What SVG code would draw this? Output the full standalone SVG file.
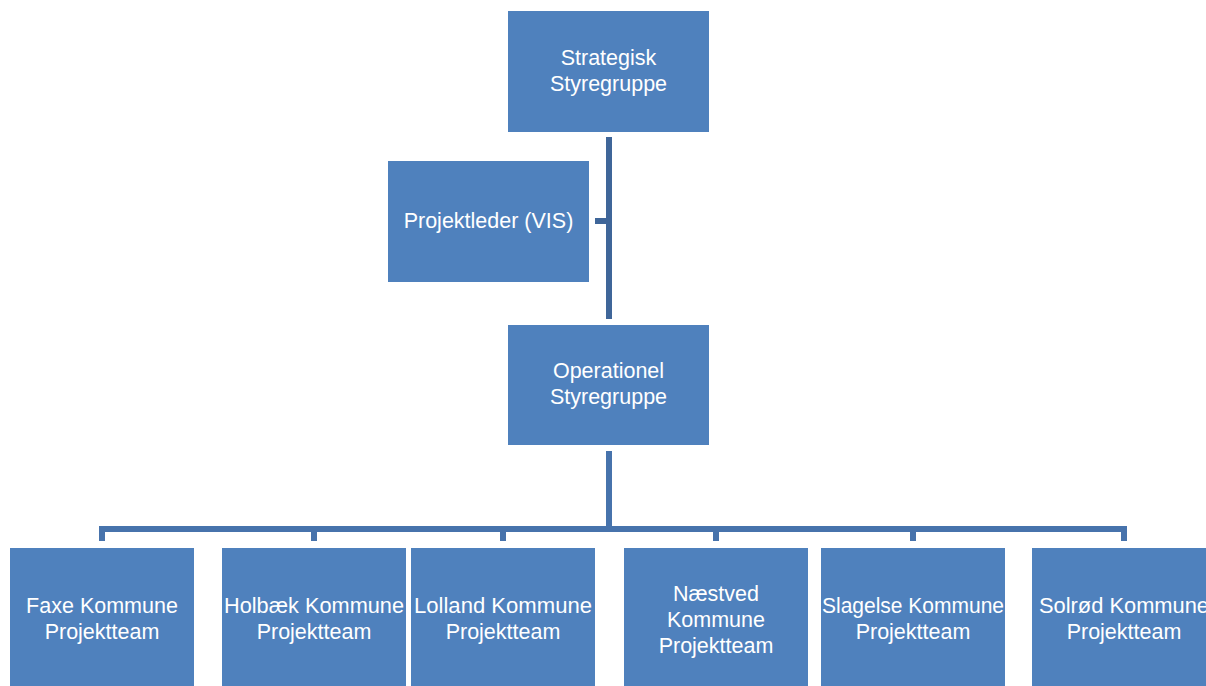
<svg xmlns="http://www.w3.org/2000/svg" width="1206" height="686" viewBox="0 0 1206 686">
<style>
.box{fill:#4F81BD;}
.lbl{font-family:"Liberation Sans",Arial,sans-serif;font-size:21.5px;fill:#FFFFFF;text-anchor:middle;}
.c1{stroke:#3F6699;stroke-width:6;fill:none;}
.c2{stroke:#4773AC;stroke-width:6;fill:none;}
</style>
<rect width="1206" height="686" fill="#FFFFFF"/>
<g id="connectors">
<line class="c1" x1="609" y1="137" x2="609" y2="319"/>
<line class="c1" x1="595" y1="221" x2="612" y2="221"/>
<line class="c2" x1="609" y1="451" x2="609" y2="529"/>
<path class="c2" d="M102,541 V529 H1124 V541"/>
<line class="c2" x1="314" y1="529" x2="314" y2="541"/>
<line class="c2" x1="503" y1="529" x2="503" y2="541"/>
<line class="c2" x1="716" y1="529" x2="716" y2="541"/>
<line class="c2" x1="913" y1="529" x2="913" y2="541"/>
</g>
<g id="strategisk">
<rect class="box" x="508" y="11" width="201" height="121"/>
<text class="lbl" x="608.5" y="65">Strategisk</text>
<text class="lbl" x="608.5" y="91">Styregruppe</text>
</g>
<g id="projektleder">
<rect class="box" x="388" y="161" width="201" height="121"/>
<text class="lbl" x="488.5" y="228">Projektleder (VIS)</text>
</g>
<g id="operationel">
<rect class="box" x="508" y="325" width="201" height="120"/>
<text class="lbl" x="608.5" y="378">Operationel</text>
<text class="lbl" x="608.5" y="404">Styregruppe</text>
</g>
<g id="faxe">
<rect class="box" x="10" y="548" width="184" height="140"/>
<text class="lbl" x="102" y="613">Faxe Kommune</text>
<text class="lbl" x="102" y="639">Projektteam</text>
</g>
<g id="holbaek">
<rect class="box" x="222" y="548" width="184" height="140"/>
<text class="lbl" x="314" y="613" textLength="180" lengthAdjust="spacingAndGlyphs">Holbæk Kommune</text>
<text class="lbl" x="314" y="639">Projektteam</text>
</g>
<g id="lolland">
<rect class="box" x="411" y="548" width="184" height="140"/>
<text class="lbl" x="503" y="613" textLength="178" lengthAdjust="spacingAndGlyphs">Lolland Kommune</text>
<text class="lbl" x="503" y="639">Projektteam</text>
</g>
<g id="naestved">
<rect class="box" x="624" y="548" width="184" height="140"/>
<text class="lbl" x="716" y="601">Næstved</text>
<text class="lbl" x="716" y="627">Kommune</text>
<text class="lbl" x="716" y="653">Projektteam</text>
</g>
<g id="slagelse">
<rect class="box" x="821" y="548" width="184" height="140"/>
<text class="lbl" x="913" y="613" textLength="182" lengthAdjust="spacingAndGlyphs">Slagelse Kommune</text>
<text class="lbl" x="913" y="639">Projektteam</text>
</g>
<g id="solrod">
<rect class="box" x="1032" y="548" width="184" height="140"/>
<text class="lbl" x="1124" y="613" textLength="170" lengthAdjust="spacingAndGlyphs">Solrød Kommune</text>
<text class="lbl" x="1124" y="639">Projektteam</text>
</g>
</svg>
